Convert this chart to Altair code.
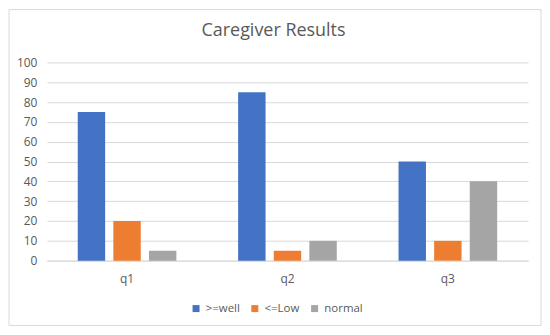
import altair as alt
import pandas as pd

categories = ["q1", "q2", "q3"]
series = [">=well", "<=Low", "normal"]
well = [75, 85, 50]
low = [20, 5, 10]
normal = [5, 10, 40]
colors = ["#4472C4", "#ED7D31", "#A5A5A5"]

rows = []
for i, c in enumerate(categories):
    for s, vals in zip(series, [well, low, normal]):
        rows.append({"q": c, "series": s, "value": vals[i]})
df = pd.DataFrame(rows)

FONT = "Open Sans"
GREY = "#595959"

bars = alt.Chart(df).mark_bar().encode(
    x=alt.X("q:N", sort=categories, title=None,
            scale=alt.Scale(paddingInner=0.385, paddingOuter=0.1925),
            axis=alt.Axis(labelAngle=0, ticks=False, domain=True, domainColor="#d9d9d9",
                          labelPadding=13, labelFontSize=12, labelColor=GREY, labelFont=FONT,
                          grid=False)),
    xOffset=alt.XOffset("series:N", sort=series,
                        scale=alt.Scale(paddingInner=0.23, paddingOuter=0)),
    y=alt.Y("value:Q", title=None,
            scale=alt.Scale(domain=[0, 100]),
            axis=alt.Axis(values=list(range(0, 101, 10)), ticks=False, domain=False,
                          gridColor="#d9d9d9", gridWidth=1, labelPadding=10,
                          labelFontSize=12, labelColor=GREY, labelFont=FONT)),
    color=alt.Color("series:N", sort=series,
                    scale=alt.Scale(domain=series, range=colors),
                    legend=alt.Legend(title=None, orient="none", direction="horizontal",
                                      legendX=144, legendY=241, symbolType="square",
                                      symbolSize=49, symbolStrokeWidth=0, labelFontSize=11.5,
                                      labelColor=GREY, labelFont=FONT, labelOffset=4,
                                      symbolOffset=0, columnPadding=9, padding=0)),
)

border = alt.Chart(pd.DataFrame({"d": [0]})).mark_rect(
    fill=None, stroke="#d9d9d9", strokeWidth=1
).encode(x=alt.value(-38), x2=alt.value(496), y=alt.value(-53), y2=alt.value(264))

chart = alt.layer(border, bars).properties(
    width=483, height=199,
    title=alt.Title("Caregiver Results", fontSize=18, font=FONT, fontWeight="normal",
                    color=GREY, anchor="middle", frame="group", dx=-14, offset=-31),
    autosize=alt.AutoSizeParams(type="none"),
    padding={"left": 39, "top": 54, "right": 14, "bottom": 66},
).configure_view(stroke=None)

chart.save("out.html", embed_options={"renderer": "svg", "actions": False})
